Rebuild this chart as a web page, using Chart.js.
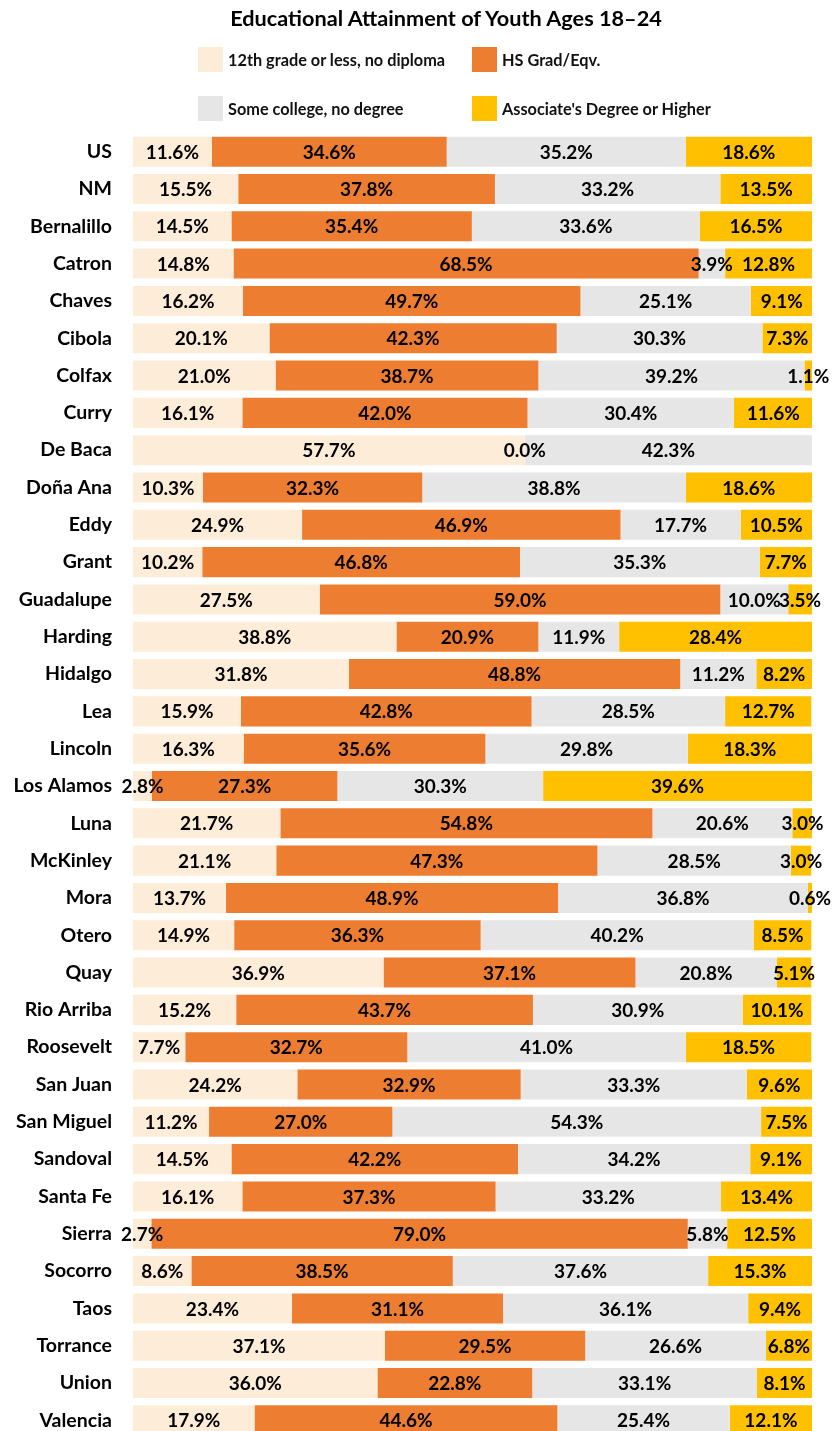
<!DOCTYPE html>
<html>
<head>
<meta charset="utf-8">
<title>Educational Attainment of Youth Ages 18–24</title>
<script src="https://cdn.jsdelivr.net/npm/chart.js@4/dist/chart.umd.min.js"></script>
<style>
  html, body { margin: 0; padding: 0; background: #fff; overflow: hidden; }
  #wrap { position: relative; width: 836px; height: 1445px; }
  #chart { position: absolute; left: 0; top: 0; }
  #title {
    position: absolute; left: 0; top: 5px; width: 892px; text-align: center;
    font: bold 21.7px Lato, "Liberation Sans", sans-serif; color: #000;
  }
  .leg { position: absolute; display: flex; align-items: center;
    font: bold 16.3px Lato, "Liberation Sans", sans-serif; color: #111; white-space: nowrap; }
  .leg span.box { display: inline-block; width: 25px; height: 25px; margin-right: 5px; }
</style>
</head>
<body>
<div id="wrap">
  <canvas id="chart" width="836" height="1445"></canvas>
  <div id="title">Educational Attainment of Youth Ages 18–24</div>
  <div id="legend"></div>
</div>
<script>
// Areas, top to bottom
const areas = ["US", "NM", "Bernalillo", "Catron", "Chaves", "Cibola", "Colfax", "Curry",
  "De Baca", "Doña Ana", "Eddy", "Grant", "Guadalupe", "Harding", "Hidalgo", "Lea",
  "Lincoln", "Los Alamos", "Luna", "McKinley", "Mora", "Otero", "Quay", "Rio Arriba",
  "Roosevelt", "San Juan", "San Miguel", "Sandoval", "Santa Fe", "Sierra", "Socorro",
  "Taos", "Torrance", "Union", "Valencia"];

const seriesNames = ["12th grade or less, no diploma", "HS Grad/Eqv.",
  "Some college, no degree", "Associate's Degree or Higher"];

// Percent of youth ages 18–24 in each attainment group
const noDiploma = [11.6, 15.5, 14.5, 14.8, 16.2, 20.1, 21.0, 16.1, 57.7, 10.3, 24.9, 10.2,
  27.5, 38.8, 31.8, 15.9, 16.3, 2.8, 21.7, 21.1, 13.7, 14.9, 36.9, 15.2, 7.7, 24.2, 11.2,
  14.5, 16.1, 2.7, 8.6, 23.4, 37.1, 36.0, 17.9];
const hsGrad = [34.6, 37.8, 35.4, 68.5, 49.7, 42.3, 38.7, 42.0, 0.0, 32.3, 46.9, 46.8,
  59.0, 20.9, 48.8, 42.8, 35.6, 27.3, 54.8, 47.3, 48.9, 36.3, 37.1, 43.7, 32.7, 32.9, 27.0,
  42.2, 37.3, 79.0, 38.5, 31.1, 29.5, 22.8, 44.6];
const someCollege = [35.2, 33.2, 33.6, 3.9, 25.1, 30.3, 39.2, 30.4, 42.3, 38.8, 17.7, 35.3,
  10.0, 11.9, 11.2, 28.5, 29.8, 30.3, 20.6, 28.5, 36.8, 40.2, 20.8, 30.9, 41.0, 33.3, 54.3,
  34.2, 33.2, 5.8, 37.6, 36.1, 26.6, 33.1, 25.4];
const associatePlus = [18.6, 13.5, 16.5, 12.8, 9.1, 7.3, 1.1, 11.6, null, 18.6, 10.5, 7.7,
  3.5, 28.4, 8.2, 12.7, 18.3, 39.6, 3.0, 3.0, 0.6, 8.5, 5.1, 10.1, 18.5, 9.6, 7.5,
  9.1, 13.4, 12.5, 15.3, 9.4, 6.8, 8.1, 12.1];

const colors = ["#FDECD8", "#ED7D31", "#E6E6E6", "#FFC000"];
const FONT = 'Lato, "Liberation Sans", sans-serif';

// Percent labels centred in every segment
const segmentLabels = {
  id: 'segmentLabels',
  afterDatasetsDraw(chart) {
    const ctx = chart.ctx;
    ctx.save();
    ctx.font = 'bold 19px ' + FONT;
    ctx.fillStyle = '#000';
    ctx.textAlign = 'center';
    ctx.textBaseline = 'middle';
    chart.data.datasets.forEach((ds, di) => {
      const meta = chart.getDatasetMeta(di);
      meta.data.forEach((el, i) => {
        const v = ds.data[i];
        if (v === null || v === undefined) return;
        const cx = (el.x + el.base) / 2;
        ctx.fillText(v.toFixed(1) + '%', cx, el.y + 1);
      });
    });
    ctx.restore();
  }
};

const datasets = [noDiploma, hsGrad, someCollege, associatePlus].map((d, i) => ({
  label: seriesNames[i],
  data: d,
  backgroundColor: colors[i],
  borderWidth: 0,
  barPercentage: 0.805,
  categoryPercentage: 1.0
}));

const chart = new Chart(document.getElementById('chart'), {
  type: 'bar',
  data: { labels: areas, datasets },
  options: {
    indexAxis: 'y',
    responsive: false,
    animation: false,
    layout: { padding: { top: 133, right: 24, bottom: 6, left: 0 } },
    plugins: { legend: { display: false }, title: { display: false }, tooltip: { enabled: false } },
    scales: {
      x: { stacked: true, min: 0, max: 100, display: false },
      y: {
        stacked: true,
        grid: { display: false, drawTicks: false },
        border: { display: false },
        ticks: { color: '#000', padding: 21, font: { family: FONT, size: 19.5, weight: 'bold' } },
        afterFit(scale) {
          scale.width = 133;
          scale.paddingTop = 0;
          scale.paddingBottom = 0;
        }
      }
    }
  },
  plugins: [segmentLabels]
});

// Legend built from the chart's datasets, two per row
const legendEl = document.getElementById('legend');
const legPos = [[198, 47], [472, 47], [198, 96], [472, 96]];
chart.data.datasets.forEach((ds, i) => {
  const item = document.createElement('div');
  item.className = 'leg';
  item.style.left = legPos[i][0] + 'px';
  item.style.top = legPos[i][1] + 'px';
  const box = document.createElement('span');
  box.className = 'box';
  box.style.background = ds.backgroundColor;
  item.appendChild(box);
  item.appendChild(document.createTextNode(ds.label));
  legendEl.appendChild(item);
});
</script>
</body>
</html>
